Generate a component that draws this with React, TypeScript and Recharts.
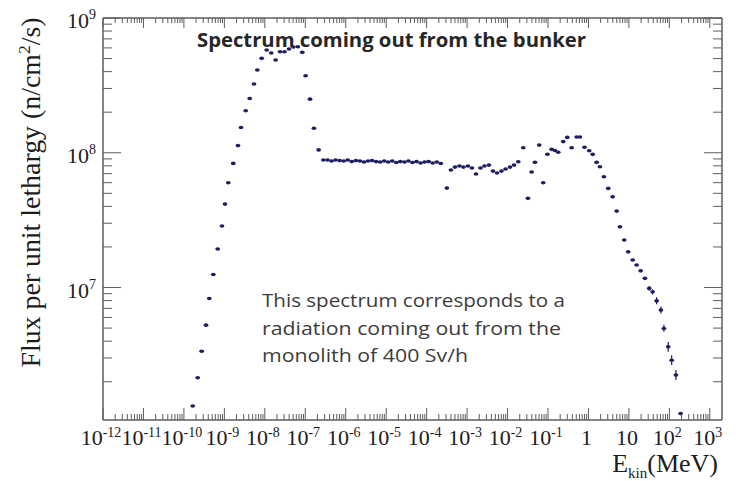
import React from "react";
import { ScatterChart, Scatter, XAxis, YAxis, ErrorBar } from "recharts";

// ---- data (E in MeV, flux in n/cm2/s per unit lethargy) ----
const thermalEnergy = [
  1.65e-10, 2.19e-10, 2.75e-10, 3.52e-10, 4.24e-10, 5.32e-10, 6.84e-10, 8.73e-10,
  1.035e-9, 1.25e-9, 1.66e-9, 2.17e-9, 2.58e-9, 3.37e-9, 4.23e-9, 5.4e-9, 6.52e-9,
  8.36e-9, 1.11e-8, 1.44e-8, 1.85e-8, 2.38e-8, 3.06e-8, 3.95e-8, 5.08e-8, 6.56e-8,
  8.43e-8, 1.02e-7, 1.31e-7, 1.64e-7, 2.14e-7, 2.79e-7,
];
const thermalFlux = [
  1.32e6, 2.14e6, 3.37e6, 5.26e6, 8.3e6, 1.25e7, 1.93e7, 2.86e7, 4.16e7, 5.99e7,
  8.34e7, 1.13e8, 1.54e8, 2.05e8, 2.53e8, 3.24e8, 4.11e8, 5.02e8, 5.79e8, 5.5e8,
  4.88e8, 5.62e8, 5.62e8, 5.89e8, 6.1e8, 6.12e8, 5.56e8, 3.73e8, 2.5e8, 1.52e8,
  1.05e8, 8.83e7,
];
const plateauEnergy = [
  3.55e-7, 4.47e-7, 5.62e-7, 7.08e-7, 8.91e-7, 1.12e-6, 1.41e-6, 1.78e-6, 2.24e-6,
  2.82e-6, 3.55e-6, 4.47e-6, 5.62e-6, 7.08e-6, 8.91e-6, 1.12e-5, 1.41e-5, 1.78e-5,
  2.24e-5, 2.82e-5, 3.55e-5, 4.47e-5, 5.62e-5, 7.08e-5, 8.91e-5, 1.12e-4, 1.41e-4,
  1.78e-4, 2.24e-4,
];
const plateauFlux = [
  8.83e7, 8.68e7, 8.83e7, 8.75e7, 8.68e7, 8.83e7, 8.6e7, 8.75e7, 8.68e7, 8.53e7,
  8.68e7, 8.75e7, 8.6e7, 8.53e7, 8.68e7, 8.53e7, 8.68e7, 8.46e7, 8.6e7, 8.53e7,
  8.68e7, 8.46e7, 8.6e7, 8.39e7, 8.53e7, 8.6e7, 8.39e7, 8.53e7, 8.32e7,
];
const intermediateEnergy = [
  3.16e-4, 3.98e-4, 5.01e-4, 6.46e-4, 8.13e-4, 1.05e-3, 1.32e-3, 1.66e-3, 2.14e-3,
  2.69e-3, 3.47e-3, 4.37e-3, 5.5e-3, 7.08e-3, 8.91e-3, 1.15e-2, 1.45e-2, 1.84e-2,
];
const intermediateFlux = [
  5.47e7, 7.44e7, 7.83e7, 7.97e7, 7.83e7, 7.97e7, 7.7e7, 6.95e7, 7.7e7, 7.97e7,
  8.1e7, 7.31e7, 7.07e7, 7.31e7, 7.57e7, 7.83e7, 8.1e7, 8.58e7,
];
const fastEnergy = [
  2.44e-2, 3.19e-2, 3.94e-2, 4.75e-2, 6.07e-2, 7.62e-2, 9.68e-2, 0.123, 0.148, 0.179,
  0.238, 0.299, 0.384, 0.511, 0.615, 0.796, 1.045, 1.27, 1.59, 1.92, 2.41, 3.08, 3.96,
  4.98, 6.0, 7.66, 9.62, 12.4, 15.5, 19.5, 24.9, 31.8, 38.5, 48.4, 61.8, 73.3, 93.7,
  114, 145, 190,
];
const fastFlux = [
  1.09e8, 4.59e7, 7.19e7, 8.49e7, 1.14e8, 5.99e7, 9.75e7, 1.06e8, 1.04e8, 1.01e8,
  1.21e8, 1.3e8, 1.09e8, 1.31e8, 1.31e8, 1.1e8, 1.035e8, 9.73e7, 8.49e7, 7.87e7,
  6.63e7, 5.44e7, 4.71e7, 3.69e7, 2.82e7, 2.25e7, 1.84e7, 1.6e7, 1.47e7, 1.33e7,
  1.17e7, 9.85e6, 9.29e6, 7.96e6, 6.8e6, 4.97e6, 3.63e6, 2.89e6, 2.24e6, 1.16e6,
];
const fastErrLow = [
  0, 0, 0, 0, 0, 0, 0, 0, 0, 0, 0, 0, 0, 0, 0, 0, 0, 0, 0, 0, 0, 0, 0, 0, 0, 0, 0, 0,
  0, 0, 0, 4e5, 4e5, 4.5e5, 3.8e5, 2.8e5, 2.9e5, 2.3e5, 1.8e5, 0,
];
const fastErrHigh = [
  0, 0, 0, 0, 0, 0, 0, 0, 0, 0, 0, 0, 0, 0, 0, 0, 0, 0, 0, 0, 0, 0, 0, 0, 0, 0, 0, 0,
  0, 0, 0, 4e5, 4e5, 5e5, 4.3e5, 3.2e5, 3.2e5, 2.6e5, 2e5, 0,
];

// ---- axis configuration ----
const xMajorExponents = [-12, -11, -10, -9, -8, -7, -6, -5, -4, -3, -2, -1, 0, 1, 2, 3];
const yMajorExponents = [7, 8, 9];
const yMinorDecades = [6, 7, 8];
const minorMultipliers = [2, 3, 4, 5, 6, 7, 8, 9];
const X_DOMAIN: [number, number] = [1e-12, 2e3];
const Y_DOMAIN: [number, number] = [1.04e6, 1e9];

const titleText = "Spectrum coming out from the bunker";
const noteLines = [
  "This spectrum corresponds to a",
  "radiation coming out from the",
  "monolith of 400 Sv/h",
];

const FRAME = "#5e5e5e";
const MARK = "#1e1e62";
const LABEL = "#1c1c1c";
const SERIF = "'Liberation Serif', 'Times New Roman', serif";
const SANS = "'Open Sans', 'Noto Sans', sans-serif";

const pow10 = (e: number) => Number(`1e${e}`);
const xTicks = [
  ...xMajorExponents.map(pow10),
  ...xMajorExponents
    .filter((e) => e < 3)
    .flatMap((e) => minorMultipliers.map((m) => Number((m * pow10(e)).toPrecision(3)))),
].sort((a, b) => a - b);
const yTicks = [
  ...yMajorExponents.map(pow10),
  ...yMinorDecades.flatMap((e) => minorMultipliers.map((m) => Number((m * pow10(e)).toPrecision(3)))),
].sort((a, b) => a - b);

const zip = (es: number[], fs: number[]) => es.map((e, i) => ({ e, f: fs[i] }));
const thermalData = zip(thermalEnergy, thermalFlux);
const plateauData = zip(plateauEnergy, plateauFlux);
const intermediateData = zip(intermediateEnergy, intermediateFlux);
const fastData = fastEnergy.map((e, i) => ({
  e,
  f: fastFlux[i],
  err: [fastErrLow[i], fastErrHigh[i]],
}));

const isMajor = (v: number) => {
  const l = Math.log10(v);
  return Math.abs(l - Math.round(l)) < 1e-6;
};

const XTick = (props: any) => {
  const { x, y, payload, side } = props;
  const v = payload.value;
  const major = isMajor(v);
  const bottom = side === "bottom";
  const len = bottom ? (major ? 12 : 6) : major ? 10 : 5;
  const dir = bottom ? -1 : 1;
  const exp = Math.round(Math.log10(v));
  return (
    <g>
      <line x1={x} y1={y} x2={x} y2={y + dir * len} stroke={FRAME} strokeWidth={1} />
      {bottom && major && (
        <text x={x - 2} y={y + 25} textAnchor="middle" fontFamily={SERIF} fontSize={22} fill={LABEL}>
          {exp === 0 ? "1" : "10"}
          {exp !== 0 && exp !== 1 && (
            <tspan dy={-8} fontSize={14}>
              {String(exp)}
            </tspan>
          )}
        </text>
      )}
    </g>
  );
};

const YTick = (props: any) => {
  const { x, y, payload, side } = props;
  const v = payload.value;
  const major = isMajor(v);
  const left = side === "left";
  const len = major ? 18 : 9;
  const dir = left ? 1 : -1;
  const exp = Math.round(Math.log10(v));
  return (
    <g>
      <line x1={x} y1={y} x2={x + dir * len} y2={y} stroke={FRAME} strokeWidth={1} />
      {left && major && (
        <text x={x - 7} y={y + 10} textAnchor="end" fontFamily={SERIF} fontSize={22} fill={LABEL}>
          10
          <tspan dy={-9} fontSize={14}>
            {String(exp)}
          </tspan>
        </text>
      )}
    </g>
  );
};

const Marker = (p: any) =>
  p.cx == null || p.cy == null ? null : (
    <ellipse cx={p.cx} cy={p.cy} rx={2.4} ry={1.8} fill={MARK} />
  );

const axisLine = { stroke: FRAME, strokeWidth: 1.5 };

export default function App() {
  return (
    <div style={{ position: "relative", width: 728, height: 473 }}>
      <ScatterChart width={728} height={473} margin={{ top: 9, right: 13, bottom: 0, left: 0 }}>
        <XAxis
          xAxisId="bottom"
          dataKey="e"
          type="number"
          scale="log"
          domain={X_DOMAIN}
          allowDataOverflow
          ticks={xTicks}
          interval={0}
          tickSize={0}
          tickMargin={0}
          tickLine={false}
          axisLine={axisLine}
          height={61}
          tick={<XTick side="bottom" />}
        />
        <XAxis
          xAxisId="top"
          orientation="top"
          dataKey="e"
          type="number"
          scale="log"
          domain={X_DOMAIN}
          allowDataOverflow
          ticks={xTicks}
          interval={0}
          tickSize={0}
          tickMargin={0}
          tickLine={false}
          axisLine={axisLine}
          height={1}
          tick={<XTick side="top" />}
        />
        <YAxis
          yAxisId="left"
          dataKey="f"
          type="number"
          scale="log"
          domain={Y_DOMAIN}
          allowDataOverflow
          ticks={yTicks}
          interval={0}
          tickSize={0}
          tickMargin={0}
          tickLine={false}
          axisLine={axisLine}
          width={95}
          tick={<YTick side="left" />}
        />
        <YAxis
          yAxisId="right"
          orientation="right"
          dataKey="f"
          type="number"
          scale="log"
          domain={Y_DOMAIN}
          allowDataOverflow
          ticks={yTicks}
          interval={0}
          tickSize={0}
          tickMargin={0}
          tickLine={false}
          axisLine={axisLine}
          width={1}
          tick={<YTick side="right" />}
        />
        <Scatter xAxisId="top" yAxisId="right" data={thermalData} shape={() => null} isAnimationActive={false} />
        <Scatter xAxisId="bottom" yAxisId="left" data={thermalData} shape={Marker} isAnimationActive={false} />
        <Scatter xAxisId="bottom" yAxisId="left" data={plateauData} shape={Marker} isAnimationActive={false} />
        <Scatter xAxisId="bottom" yAxisId="left" data={intermediateData} shape={Marker} isAnimationActive={false} />
        <Scatter xAxisId="bottom" yAxisId="left" data={fastData} shape={Marker} isAnimationActive={false}>
          <ErrorBar dataKey="err" direction="y" width={0} stroke={MARK} strokeWidth={1.2} />
        </Scatter>
      </ScatterChart>
      <svg
        width={728}
        height={473}
        style={{ position: "absolute", left: 0, top: 0, pointerEvents: "none", overflow: "visible" }}
      >
        <text
          x={189}
          y={39}
          fontFamily={SANS}
          fontWeight={700}
          fontSize={19.5}
          fill="#262626"
          textLength={389}
          lengthAdjust="spacingAndGlyphs"
        >
          {titleText}
        </text>
        {noteLines.map((line, i) => (
          <text
            key={i}
            x={254}
            y={[299, 327, 354][i]}
            fontFamily={SANS}
            fontSize={19}
            fill="#3c3c3c"
            textLength={[303, 299, 206][i]}
            lengthAdjust="spacingAndGlyphs"
          >
            {line}
          </text>
        ))}
        <text
          transform="translate(32,184.5) rotate(-90)"
          textAnchor="middle"
          fontFamily={SERIF}
          fontSize={27}
          fill={LABEL}
          textLength={350}
          lengthAdjust="spacingAndGlyphs"
        >
          Flux per unit lethargy (n/cm
          <tspan dy={-10} fontSize={17}>
            2
          </tspan>
          <tspan dy={10}>/s)</tspan>
        </text>
        <text x={710} y={464} textAnchor="end" fontFamily={SERIF} fontSize={26} fill={LABEL}>
          E
          <tspan dy={6} fontSize={15}>
            kin
          </tspan>
          <tspan dy={-6}>(MeV)</tspan>
        </text>
      </svg>
    </div>
  );
}
